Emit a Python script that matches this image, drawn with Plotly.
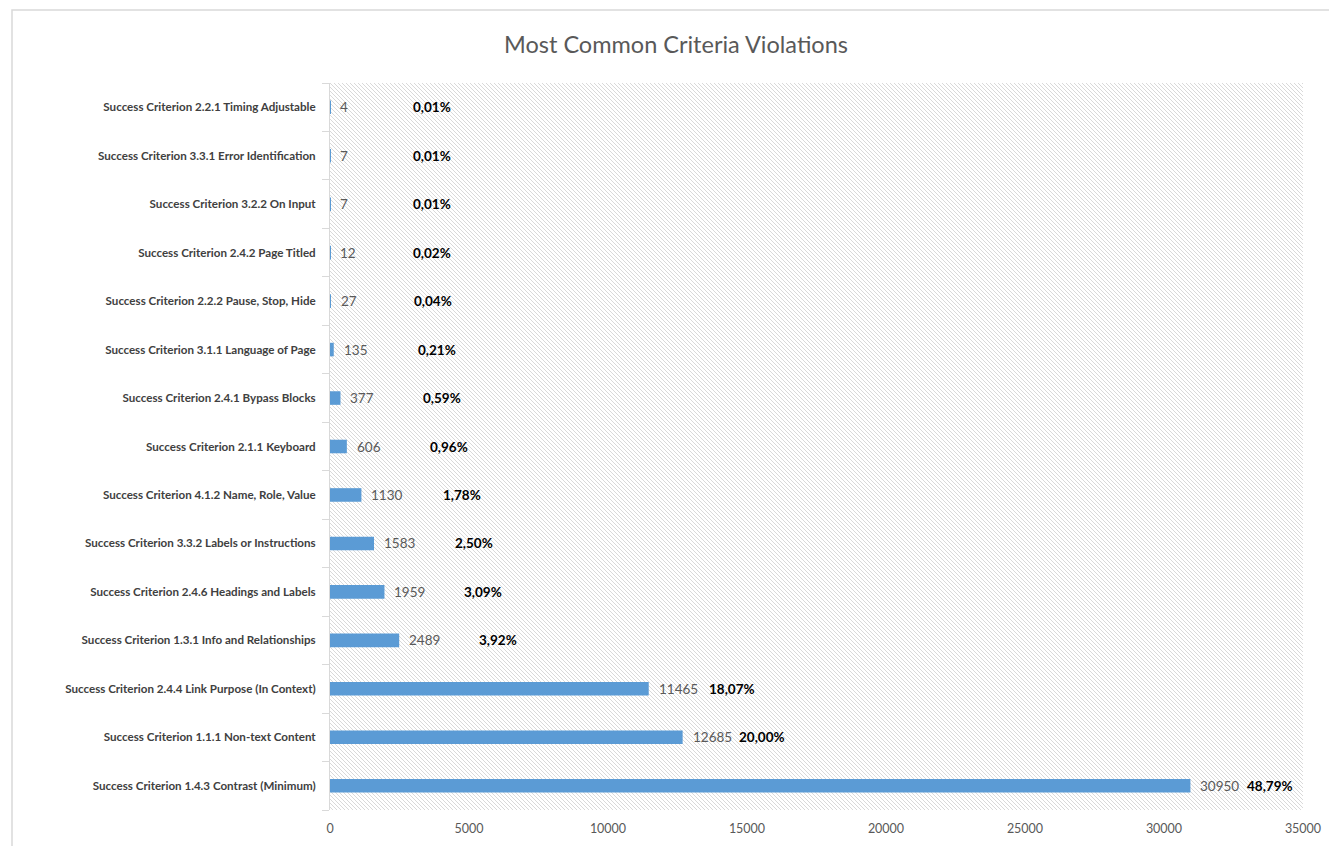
import urllib.parse
import plotly.graph_objects as go

# ---- data (bottom to top) ----
categories = [
    "Success Criterion 1.4.3 Contrast (Minimum)",
    "Success Criterion 1.1.1 Non-text Content",
    "Success Criterion 2.4.4 Link Purpose (In Context)",
    "Success Criterion 1.3.1 Info and Relationships",
    "Success Criterion 2.4.6 Headings and Labels",
    "Success Criterion 3.3.2 Labels or Instructions",
    "Success Criterion 4.1.2 Name, Role, Value",
    "Success Criterion 2.1.1 Keyboard",
    "Success Criterion 2.4.1 Bypass Blocks",
    "Success Criterion 3.1.1 Language of Page",
    "Success Criterion 2.2.2 Pause, Stop, Hide",
    "Success Criterion 2.4.2 Page Titled",
    "Success Criterion 3.2.2 On Input",
    "Success Criterion 3.3.1 Error Identification",
    "Success Criterion 2.2.1 Timing Adjustable",
]
violations = [30950, 12685, 11465, 2489, 1959, 1583, 1130, 606, 377, 135, 27, 12, 7, 7, 4]
percent_labels = ["48,79%", "20,00%", "18,07%", "3,92%", "3,09%", "2,50%", "1,78%",
                  "0,96%", "0,59%", "0,21%", "0,04%", "0,02%", "0,01%", "0,01%", "0,01%"]
x_ticks = [0, 5000, 10000, 15000, 20000, 25000, 30000, 35000]

# ---- styling ----
W, H = 1329, 846
ML, MR, MT, MB = 330, 26, 83, 36
PW, PH = W - ML - MR, H - MT - MB
FONT = "Lato, Roboto, sans-serif"
pct_shift_px = [56, 55, 59, 79, 79, 80, 81, 82, 82, 83, 82, 82, 82, 82, 82]

fig = go.Figure()
fig.add_trace(go.Bar(
    x=violations, y=categories, orientation="h",
    marker=dict(color="#5B9BD5", line=dict(width=0)),
    width=0.28, hoverinfo="x+y", showlegend=False,
))

annotations = []
for cat, v, p, sh in zip(categories, violations, percent_labels, pct_shift_px):
    annotations.append(dict(x=v, y=cat, xref="x", yref="y", text=str(v),
                            showarrow=False, xanchor="left", xshift=8,
                            font=dict(family=FONT, size=13.5, color="#595959")))
    annotations.append(dict(x=v, y=cat, xref="x", yref="y", text="<b>%s</b>" % p,
                            showarrow=False, xanchor="left", xshift=sh - 1,
                            font=dict(family=FONT, size=13.5, color="#000000")))

# diagonal hatch background as an SVG image
svg = (
    f"<svg xmlns='http://www.w3.org/2000/svg' width='{PW}' height='{PH}'>"
    "<defs><pattern id='p' width='4' height='4' patternUnits='userSpaceOnUse'>"
    "<path d='M-1,-1 L5,5 M-1,3 L1,5 M3,-1 L5,1' stroke='#d9d9d9' stroke-width='1'/>"
    "</pattern></defs>"
    f"<rect width='{PW}' height='{PH}' fill='url(#p)'/></svg>"
)
src = "data:image/svg+xml;charset=utf-8," + urllib.parse.quote(svg)

fig.update_layout(
    template="none",
    width=W, height=H,
    margin=dict(l=ML, r=MR, t=MT, b=MB, pad=0, autoexpand=False),
    paper_bgcolor="white", plot_bgcolor="rgba(0,0,0,0)",
    font=dict(family=FONT, color="#595959"),
    title=dict(text="Most Common Criteria Violations", x=676 / W, xanchor="center",
               y=1 - 45 / H, yanchor="middle",
               font=dict(family=FONT, size=23.5, color="#595959")),
    images=[dict(source=src, xref="paper", yref="paper", x=0, y=1, sizex=1, sizey=1,
                 xanchor="left", yanchor="top", sizing="stretch", layer="below")],
    annotations=annotations,
    shapes=[dict(type="rect", xref="paper", yref="paper",
                 x0=(12 - ML) / PW, x1=(W + 20 - ML) / PW,
                 y0=-(MB + 20) / PH, y1=(PH + MT - 10) / PH,
                 line=dict(color="#d9d9d9", width=1.5), fillcolor="rgba(0,0,0,0)",
                 layer="below")],
    showlegend=False,
)
fig.update_xaxes(range=[0, 35000], tickvals=x_ticks, ticktext=[str(t) for t in x_ticks],
                 showgrid=False, zeroline=False, showline=False, ticks="",
                 automargin=False, ticklabelstandoff=9,
                 tickfont=dict(family=FONT, size=12.5, color="#595959"))
fig.update_yaxes(categoryorder="array", categoryarray=categories,
                 tickmode="array", tickvals=categories,
                 ticktext=["<b>%s</b>" % c for c in categories],
                 showgrid=False, zeroline=False, showline=True, linecolor="#d9d9d9",
                 linewidth=1, ticks="outside", tickson="boundaries", ticklen=7,
                 tickcolor="#d9d9d9", ticklabelstandoff=11, automargin=False,
                 tickfont=dict(family=FONT, size=11.6, color="#404040"))

fig.write_html("out.html", config={"displayModeBar": False},
               post_script="document.body.style.margin='0';")
